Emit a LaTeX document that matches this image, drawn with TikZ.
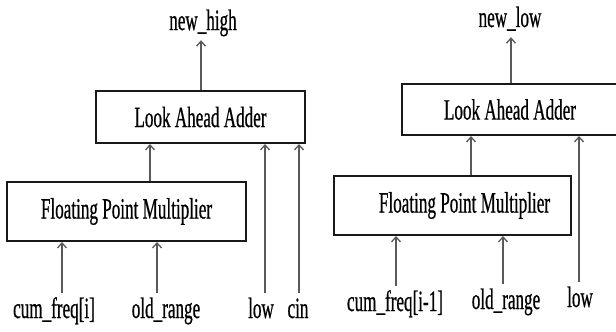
\documentclass[tikz,border=0pt]{standalone}
\usepackage{fontspec}
\setmainfont{Liberation Serif}[FakeStretch=0.58,FakeBold=0.6]
\usetikzlibrary{arrows.meta,calc}

\tikzset{
  block/.style={draw=black!90, line width=2pt, fill=white, inner sep=0pt, minimum height=52pt},
  sig/.style={draw=black!65, line width=1.3pt, -{Straight Barb[length=5pt,width=9pt]}},
  lbl/.style={inner sep=3pt, text height=22pt, text depth=7pt, anchor=base}
}

\begin{document}
\begin{tikzpicture}[x=1pt,y=-1pt,font=\fontsize{29.5}{31}\selectfont]
  \useasboundingbox (0,0) rectangle (616,332);
  \clip (0,0) rectangle (616,332);

  % Left: new_high
  \node[block, minimum width=209pt] (laaL) at (200.5,117) {Look Ahead Adder};
  \node[block, minimum width=239pt, minimum height=59pt] (fpmL) at (126.5,211.5) {Floating Point Multiplier};
  \node[lbl] (highL) at (203,30) {new\_high};
  \node[lbl] (cfL) at (54,318) {cum\_freq[i]};
  \node[lbl] (orL) at (166,318) {old\_range};
  \node[lbl] (lowL) at (261,318) {low};
  \node[lbl] (cinL) at (298,318) {cin};

  % columns of the signals
  \coordinate (oL) at (201,0);
  \coordinate (mL) at (150,0);
  \coordinate (aL) at (62,0);
  \coordinate (bL) at (157,0);
  \coordinate (dL) at (265,0);
  \coordinate (eL) at (299,0);

  % Connections
  \draw[sig] (laaL.north -| oL) -- (highL.south -| oL);
  \draw[sig] (fpmL.north -| mL) -- (laaL.south -| mL);
  \draw[sig] (cfL.north -| aL) -- (fpmL.south -| aL);
  \draw[sig] (orL.north -| bL) -- (fpmL.south -| bL);
  \draw[sig] (lowL.north -| dL) -- (laaL.south -| dL);
  \draw[sig] (cinL.north -| eL) -- (laaL.south -| eL);

  % Right: new_low
  \node[block, minimum width=216pt, minimum height=51pt] (laaR) at (510,109.5) {Look Ahead Adder};
  \node[block, minimum width=237pt, minimum height=59pt] (fpmR) at (452.5,205.5) {\hspace*{24pt}Floating Point Multiplier};
  \node[lbl] (lowNew) at (510,27) {new\_low};
  \node[lbl] (cfR) at (395,311) {cum\_freq[i-1]};
  \node[lbl] (orR) at (506,309) {old\_range};
  \node[lbl] (lowR) at (580,307) {low};

  % columns of the signals
  \coordinate (oR) at (511,0);
  \coordinate (mR) at (471,0);
  \coordinate (aR) at (396,0);
  \coordinate (bR) at (503,0);
  \coordinate (dR) at (579,0);

  % Connections
  \draw[sig] (laaR.north -| oR) -- (lowNew.south -| oR);
  \draw[sig] (fpmR.north -| mR) -- (laaR.south -| mR);
  \draw[sig] (cfR.north -| aR) -- (fpmR.south -| aR);
  \draw[sig] (orR.north -| bR) -- (fpmR.south -| bR);
  \draw[sig] (lowR.north -| dR) -- (laaR.south -| dR);
\end{tikzpicture}
\end{document}
